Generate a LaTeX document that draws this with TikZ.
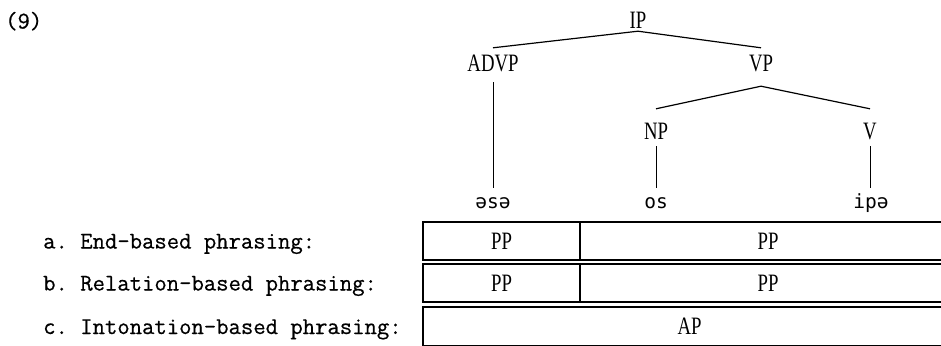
\documentclass[tikz,border=0pt]{standalone}
\usepackage{fontspec}
\setmonofont[FakeBold=0.6]{Latin Modern Mono}
\newfontfamily\treefont[FakeStretch=0.75]{Liberation Serif}
\newfontfamily\ipafont{DejaVu Sans Mono}
\begin{document}
\begin{tikzpicture}[x=1pt,y=-1pt,
  branch/.style={line width=1.2pt},
  cat/.style={font=\treefont\fontsize{25}{25}\selectfont, text height=16pt,
    text depth=0pt, inner xsep=1pt, inner ysep=7pt},
  word/.style={font=\ipafont\fontsize{19.5}{19.5}\selectfont, text height=10.5pt,
    text depth=0pt, inner sep=0pt},
  lab/.style={font=\ttfamily\fontsize{24}{24}\selectfont, anchor=west,
    text height=15pt, text depth=0pt, inner sep=0pt},
  cell/.style={draw, line width=1.4pt, minimum height=38pt, inner sep=0pt,
    font=\treefont\fontsize{25}{25}\selectfont, text height=16pt, text depth=0pt}]

\fill[white] (0,0) rectangle (941,345);
\clip (0,0) rectangle (941,345);

% example number
\node[lab] (ex) at (5,21) {(9)};

% syntactic tree
\node[cat, inner ysep=2pt] (IP) at (638,21) {IP};
\node[cat] (ADVP) at (493,63) {ADVP};
\node[cat] (VP) at (761,63) {VP};
\node[cat] (NP) at (656,131) {NP};
\node[cat] (V) at (870,131) {V};

\node[word] (w1) at (493,203) {əsə};
\node[word] (w2) at (656,203) {os};
\node[word] (w3) at (871,203) {ipə};

\draw[branch] (IP.south) -- (ADVP.north);
\draw[branch] (IP.south) -- (VP.north);
\draw[branch] ([yshift=-8pt]VP.south) -- ([yshift=7pt]NP.north);
\draw[branch] ([yshift=-8pt]VP.south) -- ([yshift=7pt]V.north);
\draw[line width=1pt] ([yshift=-4pt]ADVP.south) -- ([yshift=10pt]w1.north);
\draw[line width=1pt] (NP.south) -- ([yshift=10pt]w2.north -| NP.south);
\draw[line width=1pt] (V.south) -- ([yshift=10pt]w3.north -| V.south);

% phrasing rows
\node[lab] (la) at (43,241) {a. End-based phrasing:};
\node[lab] (lb) at (43,283) {b. Relation-based phrasing:};
\node[lab] (lc) at (43,326.5) {c. Intonation-based phrasing:};

\node[cell, minimum width=157pt] (a1) at (501.5,241) {PP};
\node[cell, minimum width=376pt] (a2) at (768,241) {PP};
\node[cell, minimum width=157pt] (b1) at (501.5,283) {PP};
\node[cell, minimum width=376pt] (b2) at (768,283) {PP};
\node[cell, minimum width=533pt, minimum height=39pt] (c1) at (689.5,326.5) {AP};
\end{tikzpicture}
\end{document}
